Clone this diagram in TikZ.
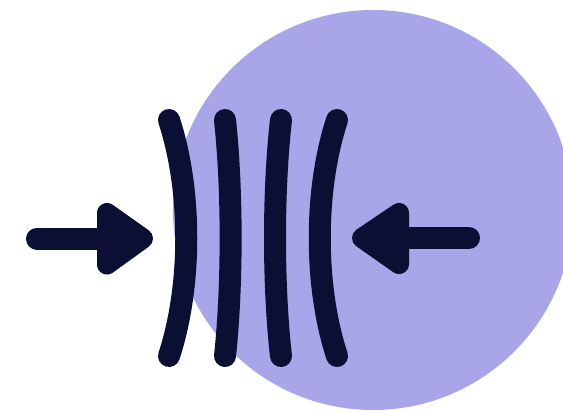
\documentclass[tikz,border=0pt]{standalone}
\definecolor{disc}{HTML}{A8A5E9}
\definecolor{ink}{HTML}{0B0F33}
\tikzset{wave/.style={draw=ink,line width=16.5pt,line cap=round},
head/.style={fill=ink,draw=ink,line width=15pt,line join=round}}
\begin{document}
\begin{tikzpicture}[x=0.75pt,y=-0.75pt]
\useasboundingbox (0,0) rectangle (563,411);
\fill[disc] (373,210) circle (200);
\draw[wave] (169,120) .. controls (192,190) and (192,286) .. (169,356);
\draw[wave] (225,120) .. controls (232.5,190) and (232.5,286) .. (225,356);
\draw[wave] (281,120) .. controls (273,190) and (273,286) .. (281,356);
\draw[wave] (337,120) .. controls (314,190) and (314,286) .. (337,356);
\draw[wave] (37,238.5) -- (110,238.5);
\draw[wave] (469,238) -- (396,238);
\draw[head] (107,213) -- (143,238.5) -- (107,264.5) -- cycle;
\draw[head] (399,213) -- (362,238) -- (399,264) -- cycle;
\end{tikzpicture}
\end{document}
